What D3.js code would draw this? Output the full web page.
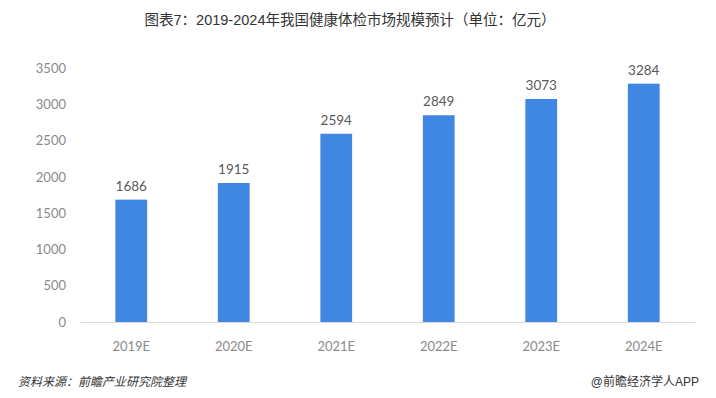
<!DOCTYPE html>
<html>
<head>
<meta charset="utf-8">
<script src="https://cdn.jsdelivr.net/npm/d3@7"></script>
<style>
  body { margin: 0; background: #fff; }
  text { font-family: "Lato", "Noto Sans CJK SC", sans-serif; }
</style>
</head>
<body>
<script>
// data
var years = ['2019E', '2020E', '2021E', '2022E', '2023E', '2024E'];
var values = [1686, 1915, 2594, 2849, 3073, 3284];
var yTicks = [0, 500, 1000, 1500, 2000, 2500, 3000, 3500];

var width = 716, height = 398;
var svg = d3.select('body').append('svg')
    .attr('width', width)
    .attr('height', height);

var xScale = d3.scaleBand()
    .domain(years)
    .range([80, 695])
    .paddingInner(0.69)
    .paddingOuter(0.345);

var yScale = d3.scaleLinear()
    .domain([0, 3500])
    .range([322, 68]);

// title
svg.append('text')
    .attr('x', 350)
    .attr('y', 25)
    .attr('text-anchor', 'middle')
    .attr('font-size', 14.5)
    .attr('fill', '#333')
    .style('font-family', '"Liberation Sans", "Noto Sans CJK SC", sans-serif')
    .text('图表7：2019-2024年我国健康体检市场规模预计（单位：亿元）');

// y axis labels
var yAxis = d3.axisLeft(yScale).tickValues(yTicks).tickFormat(d3.format('d')).tickSize(0).tickPadding(0);
var yAxisG = svg.append('g')
    .attr('transform', 'translate(66,0)')
    .call(yAxis)
    .call(g => g.select('.domain').remove());
yAxisG.selectAll('.tick text')
    .attr('font-size', 13)
    .attr('fill', '#8a8a8a')
    .style('font-family', 'Lato, sans-serif');

// x axis
var xAxis = d3.axisBottom(xScale).tickSize(0).tickPadding(20);
var xAxisG = svg.append('g')
    .attr('transform', 'translate(0,' + yScale(0) + ')')
    .call(xAxis);
xAxisG.select('.domain').attr('stroke', '#d9d9d9');
xAxisG.selectAll('.tick text')
    .attr('font-size', 13)
    .attr('fill', '#8a8a8a')
    .style('font-family', 'Lato, sans-serif');

// bars
svg.selectAll('.bar').data(values).enter()
    .append('rect')
    .attr('class', 'bar')
    .attr('x', (d, i) => xScale(years[i]))
    .attr('y', d => yScale(d))
    .attr('width', xScale.bandwidth())
    .attr('height', d => yScale(0) - yScale(d))
    .attr('fill', '#4086e3');

// value labels
svg.selectAll('.val').data(values).enter()
    .append('text')
    .attr('class', 'val')
    .attr('x', (d, i) => xScale(years[i]) + xScale.bandwidth() / 2)
    .attr('y', d => yScale(d) - 9)
    .attr('text-anchor', 'middle')
    .attr('font-size', 13.5)
    .attr('fill', '#595959')
    .style('font-family', 'Lato, sans-serif')
    .text(d => d);

// footer
svg.append('text')
    .attr('x', 18)
    .attr('y', 386)
    .attr('font-size', 12)
    .attr('fill', '#333')
    .style('font-style', 'italic')
    .style('font-family', '"Noto Sans CJK SC", sans-serif')
    .text('资料来源：前瞻产业研究院整理');

svg.append('text')
    .attr('x', 699)
    .attr('y', 386)
    .attr('text-anchor', 'end')
    .attr('font-size', 12)
    .attr('fill', '#333')
    .style('font-family', '"Liberation Sans", "Noto Sans CJK SC", sans-serif')
    .text('@前瞻经济学人APP');
</script>
</body>
</html>
